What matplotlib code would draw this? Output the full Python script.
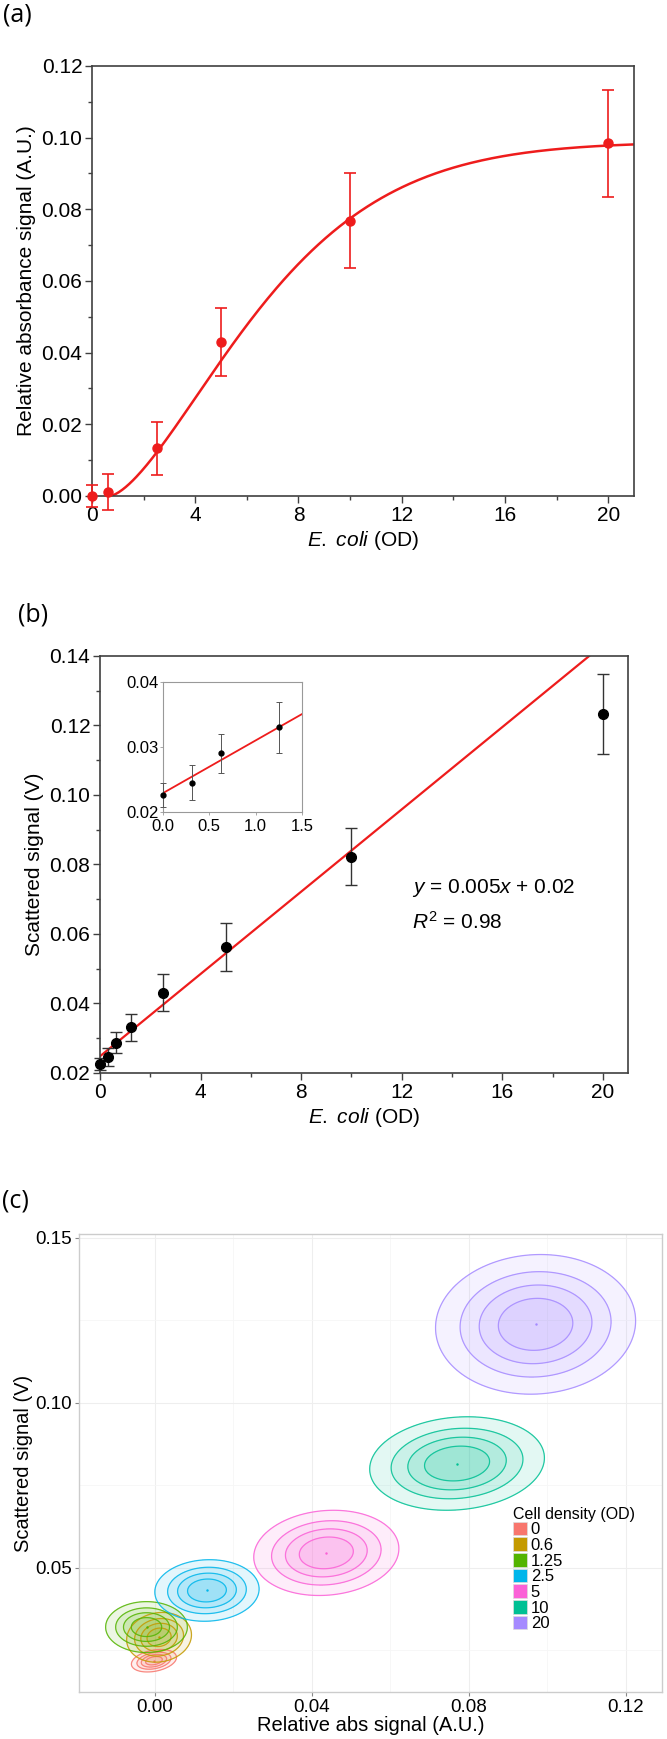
import numpy as np
import matplotlib
matplotlib.use("Agg")
import matplotlib.pyplot as plt
from matplotlib.ticker import MultipleLocator, FormatStrFormatter
from matplotlib.patches import Patch
from matplotlib import font_manager

names = {f.name for f in font_manager.fontManager.ttflist}
narrow = 'Liberation Sans Narrow' if 'Liberation Sans Narrow' in names else 'Liberation Sans'

plt.rcParams['font.family'] = ['Liberation Sans', 'DejaVu Sans']
plt.rcParams['mathtext.fontset'] = 'custom'
plt.rcParams['mathtext.rm'] = 'Liberation Sans'
plt.rcParams['mathtext.it'] = 'Liberation Sans:italic'

# ---- panel (a): absorbance vs OD
od_a = [0, 0.625, 2.5, 5, 10, 20]
abs_a = [0.0, 0.001, 0.0133, 0.0429, 0.0768, 0.0984]
abs_err = [0.003, 0.005, 0.0074, 0.0095, 0.0132, 0.0149]
# fitted curve parameters (top, onset, scale, shape)
fit_top, fit_x0, fit_scale, fit_shape = 0.0988, 0.7, 7.0, 1.5

# ---- panel (b): scattered signal vs OD
od_b = [0, 0.3125, 0.625, 1.25, 2.5, 5, 10, 20]
scat_b = [0.0226, 0.0246, 0.0287, 0.0331, 0.0431, 0.0562, 0.0822, 0.1233]
scat_err = [0.0018, 0.0027, 0.003, 0.004, 0.0053, 0.007, 0.0082, 0.0115]
lin_slope, lin_icpt = 0.00592, 0.0248
inset_od = [0, 0.3125, 0.625, 1.25]
inset_scat = [0.0226, 0.0245, 0.029, 0.033]
inset_err = [0.0018, 0.0027, 0.003, 0.0039]
inset_slope, inset_icpt = 0.0081, 0.0229

# ---- panel (c): density clouds per cell density
densities = ['0', '0.6', '1.25', '2.5', '5', '10', '20']
colors = ['#F8766D', '#C49A00', '#53B400', '#00B6EB', '#FB61D7', '#00C094', '#A58AFF']
cx = [-0.0002, 0.0011, -0.0021, 0.0133, 0.0437, 0.077, 0.097]
cy = [0.0218, 0.0289, 0.032, 0.0431, 0.0545, 0.0816, 0.1238]
sx = [0.0032, 0.0046, 0.0058, 0.0074, 0.0103, 0.0124, 0.0142]
sy = [0.0019, 0.0042, 0.0043, 0.0052, 0.0072, 0.0079, 0.0118]
rho = [0.3, 0.1, 0.0, 0.05, 0.1, 0.12, 0.05]
levels = [0.2, 0.4, 0.6, 0.8]

red = '#ee1c1c'
spine_c = '#404040'

fig = plt.figure(figsize=(6.67, 17.39), dpi=100)


def style_box(ax, fs):
    for s in ax.spines.values():
        s.set_color(spine_c)
        s.set_linewidth(1.2)
    ax.tick_params(which='major', direction='out', length=5, width=1, color=spine_c,
                   labelsize=fs, pad=2)
    ax.tick_params(which='minor', direction='out', length=3, width=1, color=spine_c)
    for lab in ax.get_xticklabels() + ax.get_yticklabels():
        lab.set_fontfamily(narrow)


# (a)
axa = fig.add_axes([0.1379, 0.7148, 0.8126, 0.2473])
xs = np.linspace(fit_x0, 21, 300)
ys = fit_top * (1 - np.exp(-((xs - fit_x0) / fit_scale) ** fit_shape))
axa.plot(xs, ys, color=red, lw=1.8)
axa.errorbar(od_a, abs_a, yerr=abs_err, fmt='o', color=red, ms=6.5, capsize=4,
             elinewidth=1.2, capthick=1.2, clip_on=False, zorder=3)
axa.set_xlim(0, 21)
axa.set_ylim(0, 0.12)
axa.xaxis.set_major_locator(MultipleLocator(4))
axa.xaxis.set_minor_locator(MultipleLocator(2))
axa.yaxis.set_major_locator(MultipleLocator(0.02))
axa.yaxis.set_minor_locator(MultipleLocator(0.01))
axa.yaxis.set_major_formatter(FormatStrFormatter('%.2f'))
style_box(axa, 15)
axa.set_xlabel(r'$\it{E.\ coli}$ (OD)', fontsize=15, labelpad=3)
axa.set_ylabel('Relative absorbance signal (A.U.)', fontsize=15, labelpad=4)
fig.text(0.004, 0.9985, '(a)', fontsize=18, family='Open Sans', va='top', ha='left')

# (b)
axb = fig.add_axes([0.1499, 0.383, 0.7916, 0.2398])
xl = np.array([0, 21])
axb.plot(xl, lin_slope * xl + lin_icpt, color=red, lw=1.6)
axb.errorbar(od_b, scat_b, yerr=scat_err, fmt='o', color='black', ecolor='#333333',
             ms=7, capsize=4, elinewidth=1, capthick=1, clip_on=False, zorder=3)
axb.set_xlim(0, 21)
axb.set_ylim(0.02, 0.14)
axb.xaxis.set_major_locator(MultipleLocator(4))
axb.xaxis.set_minor_locator(MultipleLocator(2))
axb.yaxis.set_major_locator(MultipleLocator(0.02))
axb.yaxis.set_minor_locator(MultipleLocator(0.01))
axb.yaxis.set_major_formatter(FormatStrFormatter('%.2f'))
style_box(axb, 15)
axb.set_xlabel(r'$\it{E.\ coli}$ (OD)', fontsize=15, labelpad=3)
axb.set_ylabel('Scattered signal (V)', fontsize=15, labelpad=4)
axb.text(0.59, 0.444, r'$y$ = 0.005$x$ + 0.02', transform=axb.transAxes, fontsize=15, va='center')
axb.text(0.59, 0.362, r'$R^2$ = 0.98', transform=axb.transAxes, fontsize=15, va='center')
fig.text(0.027, 0.6535, '(b)', fontsize=18, family='Open Sans', va='top', ha='left')

# inset
axi = fig.add_axes([0.2444, 0.5331, 0.2084, 0.0748])
xi = np.array([0, 1.5])
axi.plot(xi, inset_slope * xi + inset_icpt, color=red, lw=1.3)
axi.errorbar(inset_od, inset_scat, yerr=inset_err, fmt='o', color='black', ecolor='#555555',
             ms=3.5, capsize=2.5, elinewidth=0.7, capthick=0.7, clip_on=False, zorder=3)
axi.set_xlim(0, 1.5)
axi.set_ylim(0.02, 0.04)
axi.set_xticks([0, 0.5, 1.0, 1.5])
axi.set_yticks([0.02, 0.03, 0.04])
axi.xaxis.set_major_formatter(FormatStrFormatter('%.1f'))
axi.yaxis.set_major_formatter(FormatStrFormatter('%.2f'))
for s in axi.spines.values():
    s.set_color('#999999')
    s.set_linewidth(0.8)
axi.tick_params(length=2, width=0.6, color='#999999', labelsize=12, pad=1)
axi.tick_params(axis='x', pad=3)
for lab in axi.get_xticklabels() + axi.get_yticklabels():
    lab.set_fontfamily(narrow)

# (c)
axc = fig.add_axes([0.1184, 0.0270, 0.8741, 0.2634])
gx, gy = np.meshgrid(np.linspace(-0.025, 0.135, 500), np.linspace(0.005, 0.16, 500))
for i, lab in enumerate(densities):
    dx = (gx - cx[i]) / sx[i]
    dy = (gy - cy[i]) / sy[i]
    q = (dx ** 2 - 2 * rho[i] * dx * dy + dy ** 2) / (1 - rho[i] ** 2)
    z = np.exp(-0.5 * q)
    for lv in levels:
        axc.contourf(gx, gy, z, levels=[lv, 2], colors=[colors[i]], alpha=0.11)
    axc.contour(gx, gy, z, levels=levels, colors=[colors[i]], linewidths=0.9, alpha=0.85)
    axc.plot(cx[i], cy[i], '.', color=colors[i], ms=1.5)

axc.set_xlim(-0.0193, 0.1292)
axc.set_ylim(0.0123, 0.1512)
axc.set_xticks([0.0, 0.04, 0.08, 0.12])
axc.set_xticklabels(['0.00', '0.04', '0.08', '0.12'])
axc.set_yticks([0.05, 0.10, 0.15])
axc.set_yticklabels(['0.05', '0.10', '0.15'])
axc.set_xticks([0.02, 0.06, 0.10], minor=True)
axc.set_yticks([0.025, 0.075, 0.125], minor=True)
axc.grid(which='major', color='#eeeeee', lw=0.8)
axc.grid(which='minor', color='#f6f6f6', lw=0.6)
axc.set_axisbelow(True)
for s in axc.spines.values():
    s.set_color('#cccccc')
    s.set_linewidth(1)
axc.tick_params(which='major', length=3, width=0.8, color='#888888', labelsize=13.5, pad=2)
axc.tick_params(which='minor', length=0)
axc.set_xlabel('Relative abs signal (A.U.)', fontsize=14.5, labelpad=0)
axc.set_ylabel('Scattered signal (V)', fontsize=14.5, labelpad=2)
handles = [Patch(facecolor=c, edgecolor='#dddddd', lw=0.5) for c in colors]
leg = axc.legend(handles, densities, title='Cell density (OD)', loc='upper left',
                 bbox_to_anchor=(0.745, 0.405), frameon=False, fontsize=12,
                 title_fontsize=11.5, handlelength=0.8, handleheight=0.9,
                 labelspacing=0.0, handletextpad=0.25, borderpad=0, borderaxespad=0,
                 alignment='left')
fig.text(0.003, 0.3168, '(c)', fontsize=18, family='Open Sans', va='top', ha='left')

fig.savefig('out.png', dpi=100)
